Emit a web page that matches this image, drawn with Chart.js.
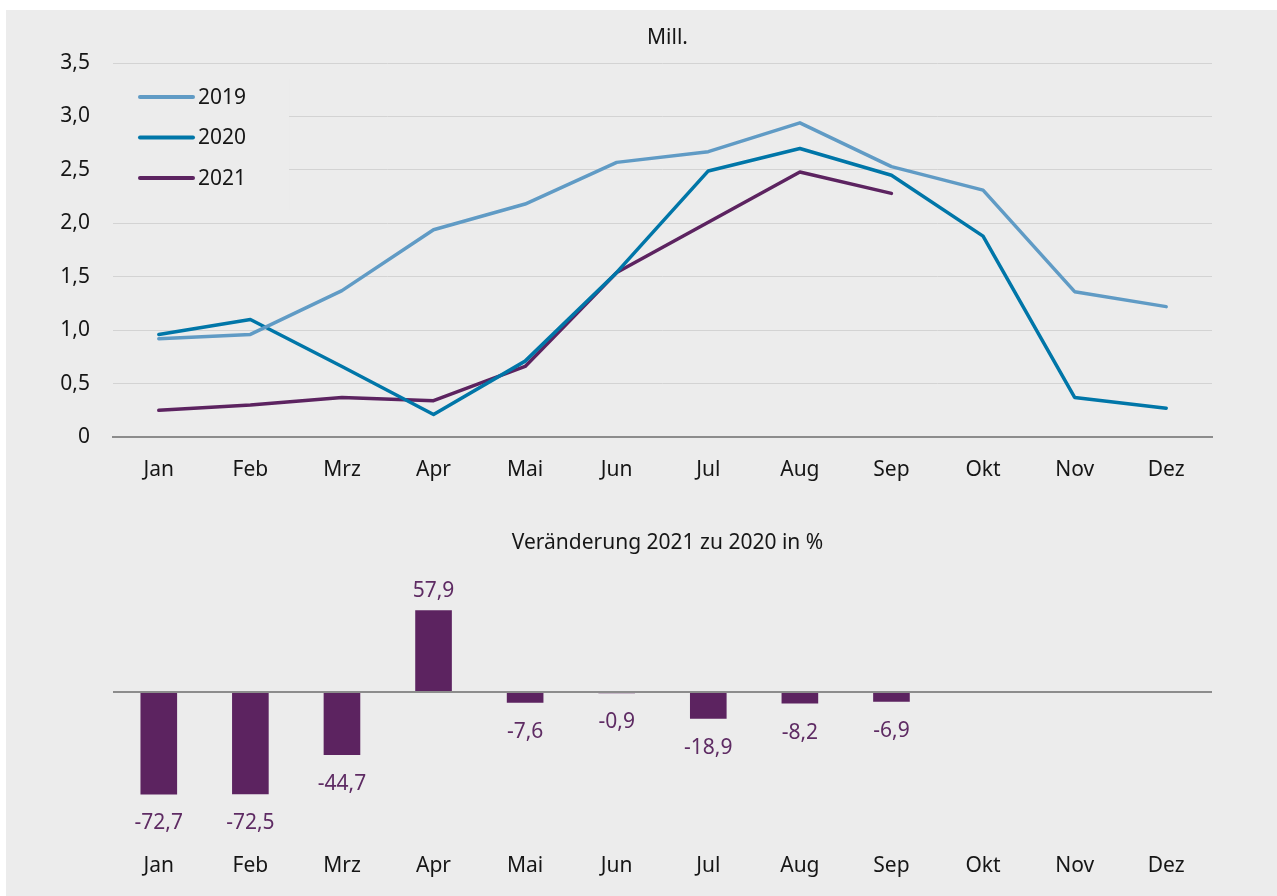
<!DOCTYPE html>
<html lang="de">
<head>
<meta charset="utf-8">
<title>Mill. / Veränderung 2021 zu 2020 in %</title>
<script src="https://cdn.jsdelivr.net/npm/chart.js@4.4.1/dist/chart.umd.min.js"></script>
<style>
  html, body { margin: 0; padding: 0; background: #fff; }
  body { width: 1277px; height: 896px; position: relative; overflow: hidden; }
  .panel { position: absolute; left: 6px; top: 10px; right: 0; bottom: 0; background: #ececec; }
  canvas { position: absolute; left: 0; }
  #lines { top: 0; }
  #change { top: 500px; }
</style>
</head>
<body>
<div class="panel"></div>
<canvas id="lines" width="1277" height="500"></canvas>
<canvas id="change" width="1277" height="396"></canvas>
<script>
const months = ['Jan', 'Feb', 'Mrz', 'Apr', 'Mai', 'Jun', 'Jul', 'Aug', 'Sep', 'Okt', 'Nov', 'Dez']
const years = ['2019', '2020', '2021']
const mill2019 = [0.92, 0.96, 1.37, 1.94, 2.18, 2.57, 2.67, 2.94, 2.53, 2.31, 1.36, 1.22]
const mill2020 = [0.96, 1.10, 0.66, 0.21, 0.71, 1.54, 2.49, 2.70, 2.45, 1.88, 0.37, 0.27]
const mill2021 = [0.25, 0.30, 0.37, 0.34, 0.66, 1.54, 2.01, 2.48, 2.28, null, null, null]
const change2021 = [-72.7, -72.5, -44.7, 57.9, -7.6, -0.9, -18.9, -8.2, -6.9, null, null, null]

const FONT = '"Noto Sans", "Open Sans", sans-serif'
const FONT_SIZE = 21
const BG = '#ececec'
const TEXT = '#161616'
const PURPLE = '#5c2360'

const germanNum = (v) => v === 0 ? '0' : v.toFixed(1).replace('.', ',')

// centred caption above a plot
const heading = {
  id: 'heading',
  afterDraw(chart, args, opts) {
    const { ctx, chartArea } = chart
    ctx.save()
    ctx.font = `${FONT_SIZE}px ${FONT}`
    ctx.fillStyle = TEXT
    ctx.textAlign = 'center'
    ctx.textBaseline = 'middle'
    ctx.fillText(opts.text, (chartArea.left + chartArea.right) / 2 + 5, opts.y)
    ctx.restore()
  }
}

// legend drawn inside the plot, on a patch of background
const insetLegend = {
  id: 'insetLegend',
  afterDatasetsDraw(chart, args, opts) {
    const { ctx, chartArea } = chart
    const sets = chart.data.datasets
    ctx.save()
    ctx.font = `${FONT_SIZE}px ${FONT}`
    const textW = Math.max(...sets.map(d => ctx.measureText(d.label).width))
    ctx.fillStyle = BG
    ctx.fillRect(chartArea.left, opts.top - 18, opts.x + opts.lineLength + 6 + textW + 42 - chartArea.left, opts.rowHeight * sets.length + 10)
    sets.forEach((d, i) => {
      const y = opts.top + i * opts.rowHeight
      ctx.strokeStyle = d.borderColor
      ctx.lineWidth = 4
      ctx.lineCap = 'round'
      ctx.beginPath()
      ctx.moveTo(opts.x, y)
      ctx.lineTo(opts.x + opts.lineLength, y)
      ctx.stroke()
      ctx.fillStyle = TEXT
      ctx.textAlign = 'left'
      ctx.textBaseline = 'middle'
      ctx.fillText(d.label, opts.x + opts.lineLength + 5, y + 1)
    })
    ctx.restore()
  }
}

// value labels at the bar ends
const barValues = {
  id: 'barValues',
  afterDatasetsDraw(chart) {
    const { ctx } = chart
    const values = chart.data.datasets[0].data
    ctx.save()
    ctx.font = `${FONT_SIZE}px ${FONT}`
    ctx.fillStyle = '#5e2b63'
    ctx.textAlign = 'center'
    ctx.textBaseline = 'middle'
    chart.getDatasetMeta(0).data.forEach((bar, i) => {
      const v = values[i]
      if (v == null) return
      const y = v >= 0 ? bar.y - 19 : bar.y + 29
      ctx.fillText(germanNum(v), bar.x, y)
    })
    ctx.restore()
  }
}

const tickFont = { family: FONT, size: FONT_SIZE }

new Chart(document.getElementById('lines'), {
  type: 'line',
  data: {
    labels: months,
    datasets: [
      { label: years[0], data: mill2019, borderColor: '#609bc5' },
      { label: years[1], data: mill2020, borderColor: '#0076a8' },
      { label: years[2], data: mill2021, borderColor: PURPLE }
    ]
  },
  options: {
    responsive: false,
    animation: false,
    devicePixelRatio: 1,
    layout: { padding: { top: 63, right: 65, bottom: 0, left: 0 } },
    elements: {
      line: { borderWidth: 3.5, tension: 0, borderCapStyle: 'round', borderJoinStyle: 'round', fill: false },
      point: { radius: 0, hoverRadius: 0 }
    },
    scales: {
      x: {
        offset: true,
        grid: { drawOnChartArea: false, drawTicks: false },
        border: { display: true, color: '#8c8c8c', width: 2 },
        ticks: { padding: 20, color: TEXT, font: tickFont, maxRotation: 0 },
        afterFit: s => { s.height = 63 }
      },
      y: {
        min: 0,
        max: 3.5,
        ticks: { stepSize: 0.5, padding: 23, color: TEXT, font: tickFont, callback: v => germanNum(v) },
        grid: { color: c => c.tick.value === 0 ? 'transparent' : '#d3d3d3', drawTicks: false, lineWidth: 1 },
        border: { display: false },
        afterFit: s => { s.width = 113 }
      }
    },
    plugins: {
      legend: { display: false },
      tooltip: { enabled: false },
      heading: { text: 'Mill.', y: 38 },
      insetLegend: { x: 140, top: 97, rowHeight: 40.5, lineLength: 53 }
    }
  },
  plugins: [heading, insetLegend]
})

new Chart(document.getElementById('change'), {
  type: 'bar',
  data: {
    labels: months,
    datasets: [{
      label: 'Veränderung 2021 zu 2020 in %',
      data: change2021,
      backgroundColor: PURPLE,
      barPercentage: 0.4,
      categoryPercentage: 1
    }]
  },
  options: {
    responsive: false,
    animation: false,
    devicePixelRatio: 1,
    layout: { padding: { top: 51, right: 65, bottom: 0, left: 0 } },
    scales: {
      x: {
        grid: { display: false, drawTicks: false },
        border: { display: false },
        ticks: { padding: 20, color: TEXT, font: tickFont, maxRotation: 0 },
        afterFit: s => { s.height = 63 }
      },
      y: {
        min: -100,
        max: 100,
        ticks: { display: false, stepSize: 50 },
        grid: {
          color: c => c.tick.value === 0 ? '#8c8c8c' : 'transparent',
          lineWidth: c => c.tick.value === 0 ? 2 : 1,
          drawTicks: false
        },
        border: { display: false },
        afterFit: s => { s.width = 113 }
      }
    },
    plugins: {
      legend: { display: false },
      tooltip: { enabled: false },
      heading: { text: 'Veränderung 2021 zu 2020 in %', y: 43 }
    }
  },
  plugins: [heading, barValues]
})
</script>
</body>
</html>
